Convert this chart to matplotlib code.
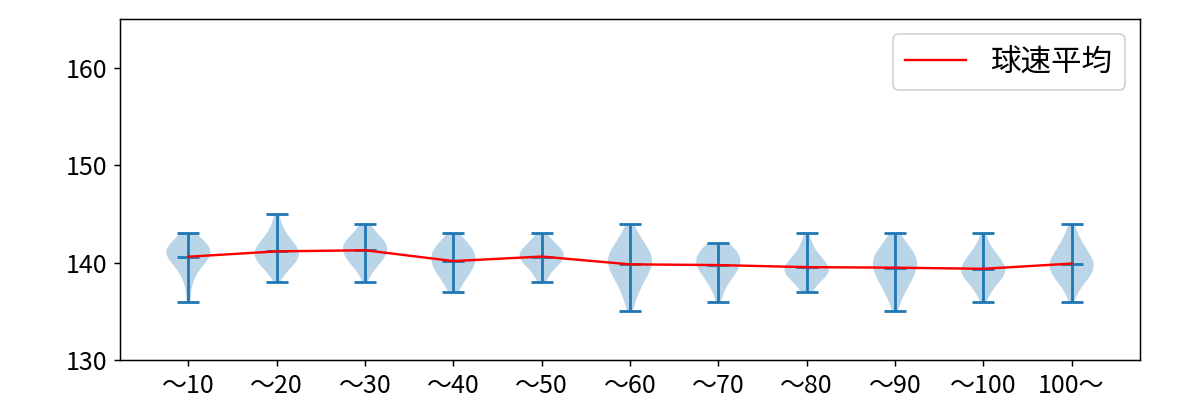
import matplotlib
matplotlib.use('Agg')
from matplotlib import pyplot as plt
import numpy as np

plt.rcParams['font.family'] = ['Noto Sans CJK JP', 'DejaVu Sans']

labels = ['～10', '～20', '～30', '～40', '～50', '～60', '～70', '～80', '～90', '～100', '100～']

# pitch speed (km/h) -> count, per pitch-count bin
speeds = [
    [136, 137, 138, 139, 140, 141, 142, 143],
    [138, 139, 140, 141, 142, 143, 144, 145],
    [138, 139, 140, 141, 142, 143, 144],
    [137, 138, 139, 140, 141, 142, 143],
    [138, 139, 140, 141, 142, 143],
    [135, 136, 137, 138, 139, 140, 141, 142, 143, 144],
    [136, 137, 138, 139, 140, 141, 142],
    [137, 138, 139, 140, 141, 142, 143],
    [135, 136, 137, 138, 139, 140, 141, 142, 143],
    [136, 137, 138, 139, 140, 141, 142, 143],
    [136, 137, 138, 139, 140, 141, 142, 143, 144],
]
counts = [
    [1, 1, 2, 4, 8, 12, 9, 3],
    [1, 4, 9, 11, 8, 4, 2, 1],
    [1, 3, 7, 10, 10, 5, 2],
    [2, 4, 7, 9, 9, 6, 2],
    [2, 4, 9, 11, 6, 2],
    [1, 2, 3, 5, 7, 9, 8, 5, 3, 1],
    [1, 2, 4, 7, 9, 8, 4],
    [2, 5, 10, 8, 4, 2, 1],
    [1, 2, 4, 6, 8, 9, 8, 4, 2],
    [1, 3, 6, 10, 8, 5, 2, 1],
    [1, 2, 5, 8, 9, 6, 4, 2, 1],
]

data = [np.repeat(s, c) for s, c in zip(speeds, counts)]
pos = np.arange(1, len(labels) + 1)
means = [d.mean() for d in data]

fig = plt.figure(figsize=(9, 3), dpi=400 / 3)
ax = fig.add_axes([0.1, 0.1, 0.85, 0.8525])
ax.violinplot(data, positions=pos, showmeans=True)
ax.plot(pos, means, color='red', linewidth=1.3, label='球速平均')
ax.set_ylim(130, 165)
ax.set_yticks([130, 140, 150, 160])
ax.set_xticks(pos)
ax.set_xticklabels(labels)
ax.tick_params(labelsize=13.5)
ax.legend(loc='upper right', fontsize=16.5)
fig.savefig('out.png', dpi=400 / 3)
